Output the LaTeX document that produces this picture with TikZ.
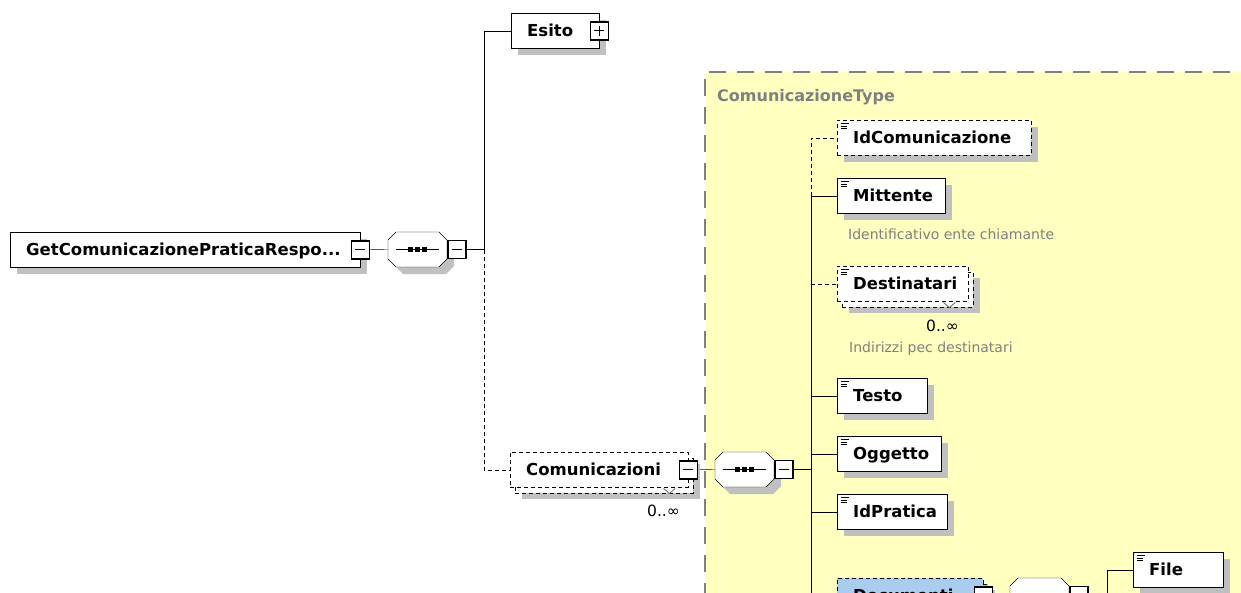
\documentclass[tikz,border=0pt]{standalone}
\usepackage{fontspec}
\setmainfont{DejaVu Sans}
\usetikzlibrary{shadows}
\definecolor{shadowgray}{RGB}{192,192,192}
\definecolor{typeyellow}{RGB}{255,255,192}
\definecolor{typegray}{RGB}{128,128,128}
\definecolor{docblue}{RGB}{170,204,238}
\pgfdeclarelayer{bgzero}
\pgfdeclarelayer{bgone}
\pgfsetlayers{bgzero,bgone,main}
\newcommand{\elfont}{\fontsize{16.5}{20}\selectfont\bfseries}
% octagon outline of a sequence node, shifted by #3 (canvas)
\newcommand{\octpath}[3][]{%
  \path[#1] ([shift={#3},xshift=8pt]#2.north west) -- ([shift={#3},xshift=-8pt]#2.north east)
    -- ([shift={#3},yshift=-8pt]#2.north east) -- ([shift={#3},yshift=8pt]#2.south east)
    -- ([shift={#3},xshift=-8pt]#2.south east) -- ([shift={#3},xshift=8pt]#2.south west)
    -- ([shift={#3},yshift=8pt]#2.south west) -- ([shift={#3},yshift=-8pt]#2.north west) -- cycle;}
\newcommand{\seqdraw}[1]{%
  \octpath[fill=shadowgray]{#1}{(7pt,-7pt)}%
  \octpath[draw,fill=white]{#1}{(0pt,0pt)}%
  \draw[line width=1.5pt] ([xshift=8pt]#1.west) -- ([xshift=-8pt]#1.east);
  \fill ([shift={(-9.5pt,-2.5pt)}]#1.center) rectangle ++(5pt,5pt);
  \fill ([shift={(-2.5pt,-2.5pt)}]#1.center) rectangle ++(5pt,5pt);
  \fill ([shift={(4.5pt,-2.5pt)}]#1.center) rectangle ++(5pt,5pt);}
\begin{document}
\begin{tikzpicture}[x=1pt,y=-1pt,line width=1.9pt,
  elem/.style={draw, fill=white, anchor=north west, minimum height=35pt,
    inner xsep=16pt, inner ysep=0pt, text height=15pt, text depth=3pt,
    font=\elfont, align=left},
  sshadow/.style={general shadow={fill=shadowgray, shadow xshift=7pt, shadow yshift=-7pt}},
  mshadow/.style={general shadow={fill=shadowgray, shadow xshift=12pt, shadow yshift=-12pt},
    general shadow={draw, fill=#1, dash pattern=on 4pt off 3pt, shadow xshift=5pt, shadow yshift=-6pt}},
  optbox/.style={dash pattern=on 4pt off 3pt},
  optline/.style={dash pattern=on 4pt off 3pt},
  icon/.style={path picture={\draw[solid, line width=1.1pt]
      ([shift={(3.5pt,-3.5pt)}]path picture bounding box.north west) -- ++(8pt,0pt)
      ([shift={(3.5pt,-6pt)}]path picture bounding box.north west) -- ++(6pt,0pt)
      ([shift={(3.5pt,-8.5pt)}]path picture bounding box.north west) -- ++(6pt,0pt);}},
  pmbox/.style={draw, fill=white, solid, minimum size=18pt, inner sep=0pt, line width=1.6pt},
  minusbox/.style={pmbox, path picture={\draw[line width=1.4pt]
      ([xshift=-5pt]path picture bounding box.center) -- ([xshift=5pt]path picture bounding box.center);}},
  plusbox/.style={pmbox, path picture={\draw[line width=1.4pt]
      ([xshift=-5pt]path picture bounding box.center) -- ([xshift=5pt]path picture bounding box.center)
      ([yshift=-5pt]path picture bounding box.center) -- ([yshift=5pt]path picture bounding box.center);}},
  seqbox/.style={shape=rectangle, minimum width=59pt, minimum height=35pt, inner sep=0pt, outer sep=0pt, anchor=west},
  card/.style={font=\fontsize{15.5}{18}\selectfont, inner sep=0pt, anchor=base east},
  desc/.style={font=\fontsize{14}{17}\selectfont, text=typegray, inner sep=0pt, anchor=base west},
  chev/.style={line width=1pt, typegray}
]
\useasboundingbox (0,0) rectangle (1241,592);

% background type region
\begin{pgfonlayer}{bgzero}
  \fill[typeyellow] (705,72) rectangle (1250,600);
  \draw[typegray, line width=1.6pt, dash pattern=on 17pt off 11pt] (705,600) -- (705,72) -- (1250,72);
\end{pgfonlayer}
\node[font=\fontsize{16}{20}\selectfont\bfseries, text=typegray, inner sep=0pt, anchor=base west] (ctype) at (717,101) {ComunicazioneType};

% root
\node[elem, sshadow, text width=318pt] (root) at (10,232) {GetComunicazionePraticaRespo...};
\node[minusbox] (rootm) at (root.east) {};
\node[seqbox] (seq1) at (388,249.5) {};
\seqdraw{seq1}
\node[minusbox, anchor=west] (seq1m) at (seq1.east) {};
\coordinate (bus1) at (484,249.5);

\node[elem, sshadow, text width=56pt] (esito) at (511,13) {Esito};
\node[plusbox] (esitop) at (esito.east) {};

\node[elem, optbox, mshadow=white, text width=146pt] (comm) at (510,452) {Comunicazioni};
\node[minusbox] (commm) at (comm.east) {};
\node[card] (commc) at (680,516) {0..∞};

\node[seqbox] (seq2) at (715,469.5) {};
\seqdraw{seq2}
\node[minusbox, anchor=west] (seq2m) at (seq2.east) {};
\coordinate (bus2) at (811,469.5);

% children
\node[elem, optbox, sshadow, icon, text width=162pt] (idcom) at (837,120) {IdComunicazione};
\node[elem, sshadow, icon, text width=76pt] (mitt) at (837,178) {Mittente};
\node[desc] (mittd) at (848,239) {Identificativo ente chiamante};
\node[elem, optbox, mshadow=white, icon, text width=99pt] (dest) at (837,266) {Destinatari};
\node[card] (destc) at (959,331) {0..∞};
\node[desc] (destd) at (849,352) {Indirizzi pec destinatari};
\node[elem, sshadow, icon, text width=58pt] (testo) at (837,378) {Testo};
\node[elem, sshadow, icon, text width=72pt] (ogg) at (837,436) {Oggetto};
\node[elem, sshadow, icon, text width=78pt] (idpr) at (837,494) {IdPratica};
\node[elem, optbox, fill=docblue, mshadow=docblue, text width=114pt] (docs) at (837,578) {Documenti};
\node[minusbox] (docsm) at (docs.east) {};
\node[seqbox] (seq3) at (1010,595.5) {};
\seqdraw{seq3}
\node[minusbox, anchor=west] (seq3m) at (seq3.east) {};
\coordinate (bus3) at (1107,595.5);
\node[elem, sshadow, icon, text width=58pt] (file) at (1133,552) {File};

% multiplicity marks
\draw[chev] ([xshift=-25pt,yshift=-1pt]comm.south east) -- ++(6pt,-5pt) -- ++(6pt,5pt);
\draw[chev] ([xshift=-25pt,yshift=-1pt]dest.south east) -- ++(6pt,-5pt) -- ++(6pt,5pt);

% connectors
\begin{pgfonlayer}{bgone}
  \draw (rootm.east) -- (seq1.west);
  \draw (seq1m.east) -- (bus1);
  \draw (bus1) |- (esito.west);
  \draw[optline] (bus1) |- (comm.west);
  \draw (commm.east) -- (seq2.west);
  \draw (seq2m.east) -- (bus2);
  \draw[optline] (bus2 |- mitt.west) |- (idcom.west);
  \draw (bus2 |- mitt.west) -- (bus2 |- docs.west);
  \draw (bus2 |- mitt.west) -- (mitt.west);
  \draw[optline] (bus2 |- dest.west) -- (dest.west);
  \draw (bus2 |- testo.west) -- (testo.west);
  \draw (bus2 |- ogg.west) -- (ogg.west);
  \draw (bus2 |- idpr.west) -- (idpr.west);
  \draw (bus2 |- docs.west) -- (docs.west);
  \draw (docsm.east) -- (seq3.west);
  \draw (seq3m.east) -- (bus3);
  \draw (bus3) |- (file.west);
\end{pgfonlayer}
\end{tikzpicture}
\end{document}
